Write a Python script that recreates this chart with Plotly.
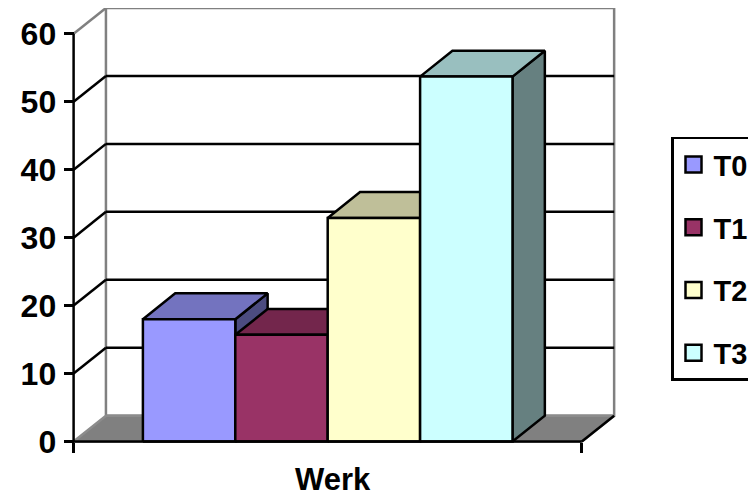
import plotly.graph_objects as go

# ---- data ----
categories = ["T0", "T1", "T2", "T3"]
values = [18, 15.7, 32.9, 53.7]
front_colors = ["#9999FF", "#993366", "#FFFFCC", "#CCFFFF"]
y_ticks = [0, 10, 20, 30, 40, 50, 60]
x_title = "Werk"

# ---- geometry (oblique 3D look) ----
W, H = 756, 496
OFF = 8                        # page body margin compensation
BAR_W = 1.0
GAP = 1.5                      # gap width 150 %
FLOOR_W = len(categories) * BAR_W + GAP
DX, DY = 0.35, 3.8             # depth offset (x units, value units)
YMAX = 60
PX_X = 92.4                    # px per x unit
PX_Y = 6.795                   # px per value unit
ORIG_X, ORIG_Y = 73.6 - OFF, 441.5 - OFF   # figure pixel of (0,0)

xr = [-ORIG_X / PX_X, (W - ORIG_X) / PX_X]
yr = [-(H - ORIG_Y) / PX_Y, ORIG_Y / PX_Y]

FONT = "Liberation Sans, Arial, sans-serif"


def shade(hexcol, f):
    h = hexcol.lstrip("#")
    r, g, b = (int(h[i:i + 2], 16) for i in (0, 2, 4))
    return "#%02X%02X%02X" % (round(r * f), round(g * f), round(b * f))


fig = go.Figure()


def poly(xs, ys, fill, line_color, lw=2.5):
    fig.add_trace(go.Scatter(
        x=list(xs) + [xs[0]], y=list(ys) + [ys[0]], mode="lines",
        fill="toself", fillcolor=fill,
        line=dict(color=line_color, width=lw),
        hoverinfo="skip", showlegend=False))


def segs(pairs, color, lw=2.5):
    xs, ys = [], []
    for (x0, y0), (x1, y1) in pairs:
        xs += [x0, x1, None]
        ys += [y0, y1, None]
    fig.add_trace(go.Scatter(x=xs, y=ys, mode="lines",
                             line=dict(color=color, width=lw),
                             hoverinfo="skip", showlegend=False))


# back wall
poly([DX, FLOOR_W + DX, FLOOR_W + DX, DX],
     [DY, DY, YMAX + DY, YMAX + DY], "white", "#808080")
# gridlines on back wall and their diagonals
inner = [v for v in y_ticks if 0 < v < YMAX]
segs([((DX, v + DY), (FLOOR_W + DX, v + DY)) for v in inner]
     + [((0, v), (DX, v + DY)) for v in inner], "black")
# top-left wall edge
segs([((0, YMAX), (DX, YMAX + DY))], "#808080")
# floor
poly([0, FLOOR_W, FLOOR_W + DX, DX], [0, 0, DY, DY], "#808080", "#8C8C8C")
segs([((FLOOR_W, 0), (FLOOR_W + DX, DY))], "black")

# bars
for i, (cat, v, col) in enumerate(zip(categories, values, front_colors)):
    x0 = GAP / 2 + i * BAR_W
    x1 = x0 + BAR_W
    # right side
    poly([x1, x1 + DX, x1 + DX, x1], [0, DY, v + DY, v],
         shade(col, 0.5), "black")
    # top
    poly([x0, x1, x1 + DX, x0 + DX], [v, v, v + DY, v + DY],
         shade(col, 0.75), "black")
    # front
    poly([x0, x1, x1, x0], [0, 0, v, v], col, "black")
    # legend entry
    fig.add_trace(go.Scatter(
        x=[None], y=[None], mode="markers", name=cat,
        legendgroup=cat,
        marker=dict(symbol="square", size=16, color=col,
                    line=dict(color="black", width=2.5))))

# front axes lines
segs([((0, 0), (0, YMAX)), ((0, 0), (FLOOR_W, 0))], "black")

fig.add_annotation(text="<b>%s</b>" % x_title, xref="paper", yref="paper",
                   x=(332.5 - OFF) / W, y=(H - (479 - OFF)) / H,
                   xanchor="center", yanchor="middle", showarrow=False,
                   font=dict(family=FONT, size=31, color="black"))

fig.update_layout(
    width=W, height=H,
    margin=dict(l=0, r=0, t=0, b=0, autoexpand=False),
    paper_bgcolor="white", plot_bgcolor="white",
    xaxis=dict(range=xr, showgrid=False, zeroline=False, showline=False,
               anchor="free", position=(H - ORIG_Y) / H,
               tickmode="array", tickvals=[0, FLOOR_W], ticks="outside",
               ticklen=10, tickwidth=2.5, tickcolor="black",
               showticklabels=False, fixedrange=True),
    yaxis=dict(range=yr, showgrid=False, zeroline=False, showline=False,
               anchor="free", position=ORIG_X / W,
               tickmode="array", tickvals=y_ticks, ticks="outside",
               ticklen=10, tickwidth=2.5, tickcolor="black",
               ticklabelstandoff=1,
               tickfont=dict(family=FONT, size=32, color="black",
                             weight="bold"),
               fixedrange=True),
    legend=dict(x=(671 - OFF) / W, xanchor="left",
                y=1 - (136.7 - OFF) / H, yanchor="top",
                bgcolor="white", bordercolor="black", borderwidth=2.5,
                font=dict(family=FONT, size=29, color="black", weight="bold"),
                traceorder="grouped", tracegroupgap=22,
                entrywidthmode="pixels", entrywidth=110),
    showlegend=True,
)

fig.write_html("out.html")
